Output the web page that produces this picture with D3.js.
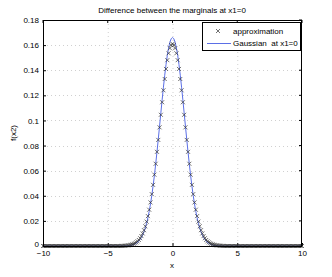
<!DOCTYPE html>
<html>
<head>
<meta charset="utf-8">
<title>Difference between the marginals</title>
<script src="https://cdnjs.cloudflare.com/ajax/libs/d3/7.8.5/d3.min.js"></script>
<style>
  body { margin: 0; background: #fff; }
  text { font-family: "Liberation Sans", Arial, sans-serif; fill: #000; }
</style>
</head>
<body>
<div id="chart"></div>
<script>
// x grid: -10 .. 10, step 0.1 (201 points)
var xGrid = d3.range(-100, 101).map(function (i) { return i / 10; });

var z60 = [0,0,0,0,0,0,0,0,0,0, 0,0,0,0,0,0,0,0,0,0, 0,0,0,0,0,0,0,0,0,0,
           0,0,0,0,0,0,0,0,0,0, 0,0,0,0,0,0,0,0,0,0, 0,0,0,0,0,0,0,0,0,0];

// approximation values, x = -4.0 .. 4.0
var approxMid = [0, 0.0001, 0.0001, 0.0002, 0.0003, 0.0004, 0.0005, 0.0007, 0.0010, 0.0013,
  0.0017, 0.0022, 0.0029, 0.0037, 0.0048, 0.0062, 0.0079, 0.0100, 0.0126, 0.0157,
  0.0194, 0.0238, 0.0289, 0.0347, 0.0413, 0.0487, 0.0568, 0.0655, 0.0750, 0.0845,
  0.0945, 0.1045, 0.1145, 0.1240, 0.1330, 0.1410, 0.1480, 0.1535, 0.1575, 0.1600,
  0.1610,
  0.1600, 0.1575, 0.1535, 0.1480, 0.1410, 0.1330, 0.1240, 0.1145, 0.1045, 0.0945,
  0.0845, 0.0750, 0.0655, 0.0568, 0.0487, 0.0413, 0.0347, 0.0289, 0.0238, 0.0194,
  0.0157, 0.0126, 0.0100, 0.0079, 0.0062, 0.0048, 0.0037, 0.0029, 0.0022, 0.0017,
  0.0013, 0.0010, 0.0007, 0.0005, 0.0004, 0.0003, 0.0002, 0.0001, 0.0001, 0];

// Gaussian at x1=0 values, x = -4.0 .. 4.0
var gaussMid = [0, 0, 0, 0.0001, 0.0001, 0.0002, 0.0003, 0.0004, 0.0006, 0.0008,
  0.0011, 0.0016, 0.0022, 0.0029, 0.0039, 0.0052, 0.0068, 0.0089, 0.0114, 0.0144,
  0.0181, 0.0225, 0.0276, 0.0335, 0.0402, 0.0477, 0.0560, 0.0651, 0.0748, 0.0849,
  0.0954, 0.1060, 0.1164, 0.1265, 0.1360, 0.1445, 0.1519, 0.1579, 0.1624, 0.1651,
  0.1660,
  0.1651, 0.1624, 0.1579, 0.1519, 0.1445, 0.1360, 0.1265, 0.1164, 0.1060, 0.0954,
  0.0849, 0.0748, 0.0651, 0.0560, 0.0477, 0.0402, 0.0335, 0.0276, 0.0225, 0.0181,
  0.0144, 0.0114, 0.0089, 0.0068, 0.0052, 0.0039, 0.0029, 0.0022, 0.0016, 0.0011,
  0.0008, 0.0006, 0.0004, 0.0003, 0.0002, 0.0001, 0.0001, 0, 0, 0];

var approxY = z60.concat(approxMid, z60);
var gaussY = z60.concat(gaussMid, z60);

var xTicks = [-10, -5, 0, 5, 10];
var yTicks = [0, 0.02, 0.04, 0.06, 0.08, 0.1, 0.12, 0.14, 0.16, 0.18];
var legendLabels = ["approximation", "Gaussian  at x1=0"];

var W = 332, H = 277;
var L = 43, R = 302, T = 20, B = 246;

var svg = d3.select("#chart").append("svg")
    .attr("width", W).attr("height", H);

var x = d3.scaleLinear().domain([-10, 10]).range([L, R]);
var y = d3.scaleLinear().domain([0, 0.18]).range([B, T]);

// grid
var grid = svg.append("g")
    .attr("stroke", "#c4c4c4").attr("stroke-width", 0.8)
    .attr("stroke-dasharray", "1,3");
grid.selectAll(".gx").data(xTicks.slice(1, -1)).enter().append("line")
    .attr("x1", function (d) { return x(d) + 0.5; })
    .attr("x2", function (d) { return x(d) + 0.5; })
    .attr("y1", T).attr("y2", B);
grid.selectAll(".gy").data(yTicks.slice(1, -1)).enter().append("line")
    .attr("y1", function (d) { return Math.round(y(d)) + 0.5; })
    .attr("y2", function (d) { return Math.round(y(d)) + 0.5; })
    .attr("x1", L).attr("x2", R);

// axes (ticks inward)
var xAxis = d3.axisBottom(x).tickValues(xTicks).tickSizeInner(-3).tickSizeOuter(0)
    .tickPadding(4).tickFormat(function (d) { return d < 0 ? "\u2212" + (-d) : d; });
var gx = svg.append("g").attr("transform", "translate(0," + B + ")").call(xAxis);
var yAxis = d3.axisLeft(y).tickValues(yTicks).tickSizeInner(-3).tickSizeOuter(0)
    .tickPadding(4).tickFormat(function (d) { return d3.format("")(+d.toFixed(2)); });
var gy = svg.append("g").attr("transform", "translate(" + L + ",0)").call(yAxis);
[gx, gy].forEach(function (g) {
  g.selectAll("text").style("font-size", "8px").attr("fill", "#000");
  g.selectAll("line").attr("stroke", "#000");
  g.select(".domain").remove();
});
// lift the "0" label a little so it clears "-10"
gy.selectAll("text").filter(function (d) { return d === 0; }).attr("dy", "0.1em");

// right and top ticks
svg.append("g").selectAll("line").data(yTicks).enter().append("line")
    .attr("x1", R).attr("x2", R - 3)
    .attr("y1", function (d) { return y(d); }).attr("y2", function (d) { return y(d); })
    .attr("stroke", "#000");
svg.append("g").selectAll("line").data(xTicks).enter().append("line")
    .attr("y1", T).attr("y2", T + 3)
    .attr("x1", function (d) { return x(d); }).attr("x2", function (d) { return x(d); })
    .attr("stroke", "#000");

// Gaussian line
var line = d3.line()
    .x(function (d, i) { return x(xGrid[i]); })
    .y(function (d) { return y(d); });
svg.append("path").datum(gaussY)
    .attr("fill", "none").attr("stroke", "#5b6fe6").attr("stroke-width", 1)
    .attr("d", line);

// approximation markers
var m = 2;
var marks = svg.append("g").attr("stroke", "#333").attr("stroke-width", 0.7);
marks.selectAll("path").data(approxY).enter().append("path")
    .attr("d", function (d, i) {
      var cx = x(xGrid[i]), cy = y(d);
      return "M" + (cx - m) + "," + (cy - m) + "L" + (cx + m) + "," + (cy + m) +
             "M" + (cx - m) + "," + (cy + m) + "L" + (cx + m) + "," + (cy - m);
    });

// frame
svg.append("rect").attr("x", L + 0.5).attr("y", T + 0.5)
    .attr("width", R - L - 1).attr("height", B - T)
    .attr("fill", "none").attr("stroke", "#000").attr("stroke-width", 1);

// legend
var lg = svg.append("g");
lg.append("rect").attr("x", 202.5).attr("y", 22.5).attr("width", 98).attr("height", 28)
    .attr("fill", "#fff").attr("stroke", "#000").attr("stroke-width", 1);
lg.append("path")
    .attr("d", "M" + (218 - m) + "," + (31 - m) + "L" + (218 + m) + "," + (31 + m) +
               "M" + (218 - m) + "," + (31 + m) + "L" + (218 + m) + "," + (31 - m))
    .attr("stroke", "#333").attr("stroke-width", 0.7);
lg.append("line").attr("x1", 207).attr("x2", 231).attr("y1", 43.5).attr("y2", 43.5)
    .attr("stroke", "#5b6fe6").attr("stroke-width", 1);
lg.selectAll("text").data(legendLabels).enter().append("text")
    .attr("x", 233).attr("y", function (d, i) { return 34 + i * 12; })
    .style("font-size", "8px").style("white-space", "pre")
    .text(function (d) { return d; });

// title and labels
svg.append("text").attr("x", 172).attr("y", 13).attr("text-anchor", "middle")
    .style("font-size", "8px").text("Difference between the marginals at x1=0");
svg.append("text").attr("x", 172).attr("y", 268).attr("text-anchor", "middle")
    .style("font-size", "8px").text("x");
svg.append("text").attr("transform", "translate(16,133) rotate(-90)")
    .attr("text-anchor", "middle").style("font-size", "8px").text("f(x2)");
</script>
</body>
</html>
